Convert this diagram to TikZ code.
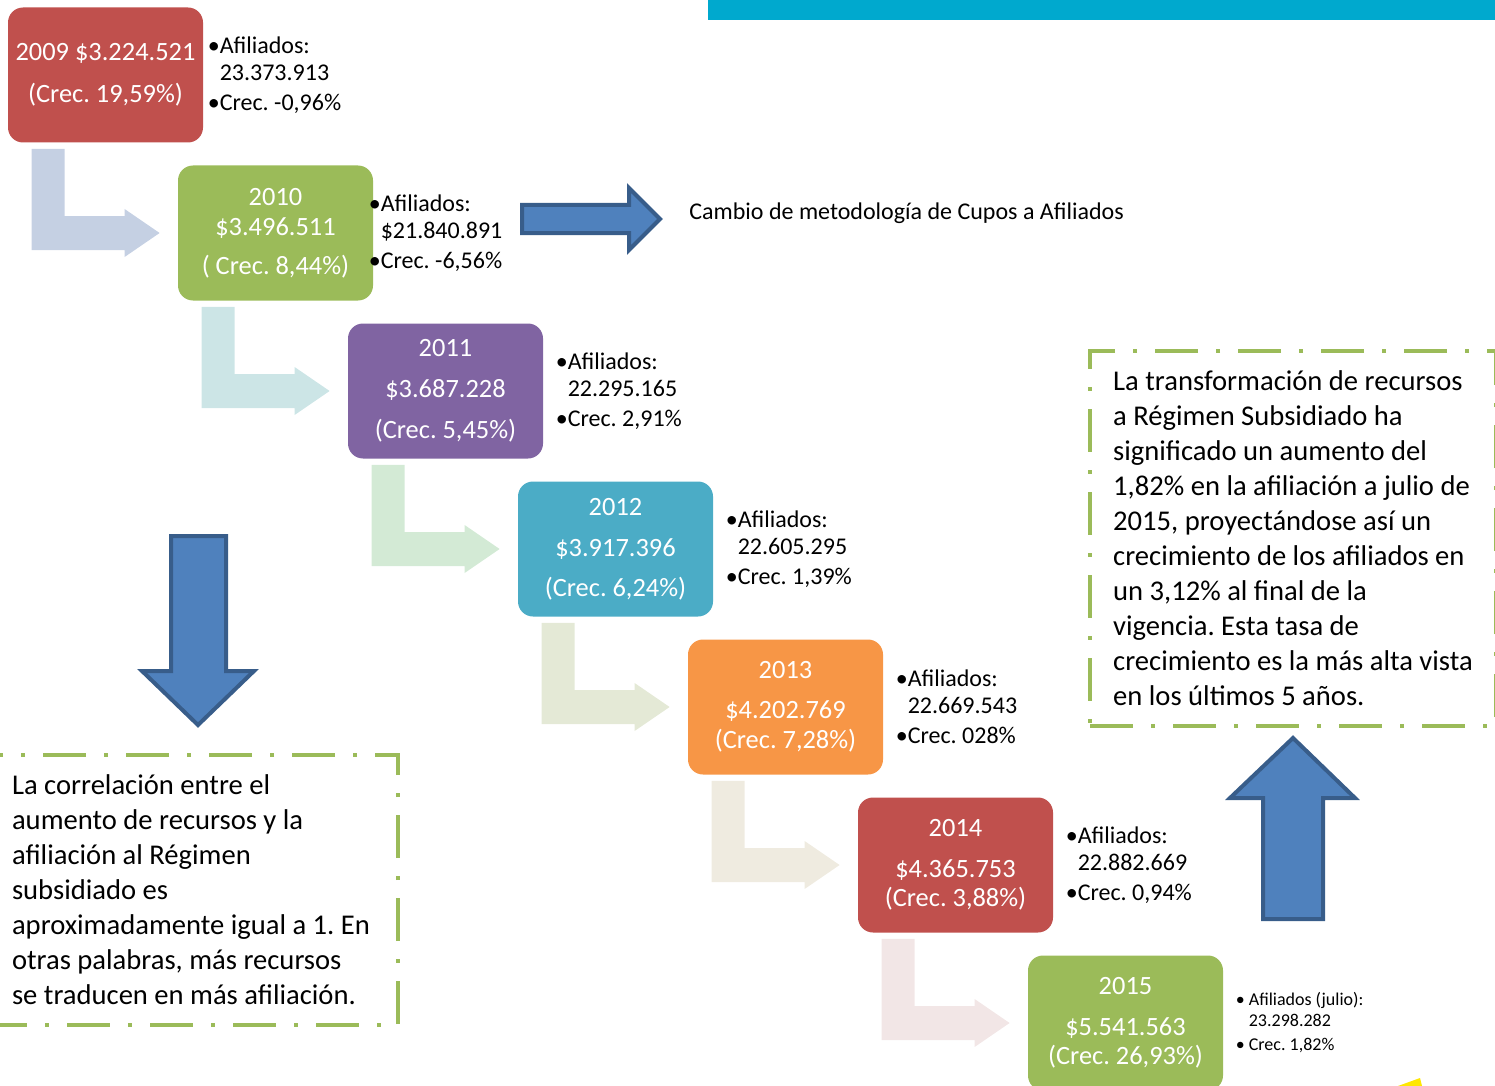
\documentclass[tikz,border=0pt]{standalone}
\usepackage{fontspec}
\setmainfont{Carlito}
\usetikzlibrary{positioning, calc}
\frenchspacing

\definecolor{rojo}{HTML}{C0504D}
\definecolor{verde}{HTML}{9BBB59}
\definecolor{morado}{HTML}{8064A2}
\definecolor{celeste}{HTML}{4BACC6}
\definecolor{naranja}{HTML}{F79646}
\definecolor{azul}{HTML}{4F81BD}
\definecolor{azulborde}{HTML}{385D8A}
\definecolor{barra}{HTML}{00A9CE}
\definecolor{paso1}{HTML}{C5D0E3}
\definecolor{paso2}{HTML}{CCE5E6}
\definecolor{paso3}{HTML}{D3EAD5}
\definecolor{paso4}{HTML}{E4E9D6}
\definecolor{paso5}{HTML}{EFEBE0}
\definecolor{paso6}{HTML}{F2E6E6}

\newcommand{\afil}[2]{\textbullet Afiliados:\\\hphantom{\textbullet}#1\\[1.5pt]\textbullet Crec. #2}

\begin{document}
\begin{tikzpicture}[x=0.5pt, y=-0.5pt,
  box/.style={rectangle, rounded corners=7.5pt, minimum width=97.5pt, minimum height=67.5pt,
    inner sep=0pt, text=white, align=center, font=\fontsize{13.2}{15}\selectfont},
  info/.style={inner sep=0pt, align=left, font=\fontsize{12}{13.5}\selectfont},
  note/.style={draw=verde, line width=2pt, dash pattern=on 21.5pt off 9pt on 2pt off 9pt,
    align=left, inner sep=0pt, font=\fontsize{14.3}{17.5}\selectfont},
  flecha/.style={fill=azul, draw=azulborde, line width=2pt}]
  \clip (0,0) rectangle (1495,1086);
  \fill[barra] (708,0) rectangle (1495,20);

  % Nodes
  \node[box, fill=rojo] (y2009) at (105.5,75) {2009 \$3.224.521\\[6pt](Crec. 19,59\%)};
  \node[box, fill=verde, on grid, below right=79pt and 85pt of y2009] (y2010)
    {2010\\\$3.496.511\\[4.5pt]( Crec. 8,44\%)};
  \node[box, fill=morado, on grid, below right=79pt and 85pt of y2010] (y2011)
    {2011\\[5.5pt]\$3.687.228\\[5.5pt](Crec. 5,45\%)};
  \node[box, fill=celeste, on grid, below right=79pt and 85pt of y2011] (y2012)
    {2012\\[5.5pt]\$3.917.396\\[5pt](Crec. 6,24\%)};
  \node[box, fill=naranja, on grid, below right=79pt and 85pt of y2012] (y2013)
    {2013\\[5pt]\$4.202.769\\(Crec. 7,28\%)};
  \node[box, fill=rojo, on grid, below right=79pt and 85pt of y2013] (y2014)
    {2014\\[5.5pt]\$4.365.753\\[-0.5pt](Crec. 3,88\%)};
  \node[box, fill=verde, on grid, below right=79pt and 85pt of y2014] (y2015)
    {2015\\[5.5pt]\$5.541.563\\[-0.5pt](Crec. 26,93\%)};

  \node[info, right=2pt of y2009] (i2009) {\afil{23.373.913}{-0,96\%}};
  \node[info, right=-2.5pt of y2010] (i2010) {\afil{\$21.840.891}{-6,56\%}};
  \node[info, right=6pt of y2011] (i2011) {\afil{22.295.165}{2,91\%}};
  \node[info, right=6pt of y2012] (i2012) {\afil{22.605.295}{1,39\%}};
  \node[info, right=6pt of y2013] (i2013) {\afil{22.669.543}{028\%}};
  \node[info, right=6pt of y2014] (i2014) {\afil{22.882.669}{0,94\%}};
  \node[info, right=6pt of y2015, font=\fontsize{9}{10.5}\selectfont] (i2015)
    {\textbullet\ Afiliados (julio):\\\hphantom{\textbullet\ }23.298.282\\[1.5pt]\textbullet\ Crec. 1,82\%};

  \node[anchor=west, inner sep=0pt, font=\fontsize{12}{14}\selectfont] (cambio) at (689,213)
    {Cambio de metodología de Cupos a Afiliados};

  \node[note, anchor=north west, minimum width=203pt, minimum height=187.5pt] (nota2) at (1088,349)
    {La transformación de recursos\\a Régimen Subsidiado ha\\significado un aumento del\\
     1,82\% en la afiliación a julio de\\2015, proyectándose así un\\
     crecimiento de los afiliados en\\un 3,12\% al final de la\\vigencia. Esta tasa de\\
     crecimiento es la más alta vista\\en los últimos 5 años.};
  \node[note, anchor=north east, minimum width=207pt, minimum height=135pt] (nota1) at (400,753)
    {La correlación entre el\\aumento de recursos y la\\afiliación al Régimen\\subsidiado es\\
     aproximadamente igual a 1. En\\otras palabras, más recursos\\se traducen en más afiliación.};

  % Edges
  \foreach \a/\b/\c in {y2009/y2010/paso1, y2010/y2011/paso2, y2011/y2012/paso3,
                        y2012/y2013/paso4, y2013/y2014/paso5, y2014/y2015/paso6} {
    \coordinate (s) at ($(\a.south west)+(24,6)$);
    \coordinate (t) at ($(\b.west)+(-18,0)$);
    \fill[\c] (s) -- ++(33,0) -- ($(s|-t)+(33,-17)$) -- ($(t)+(-35,-17)$) -- ($(t)+(-35,-24)$)
      -- (t) -- ($(t)+(-35,24)$) -- ($(t)+(-35,17)$) -- ($(s|-t)+(0,17)$) -- cycle;
  }

  % Big arrows
  \draw[flecha] (522,205) -- (629,205) -- (629,188) -- (660,219) -- (629,250) -- (629,233)
    -- (522,233) -- cycle;
  \draw[flecha] (171,536) -- (226,536) -- (226,671) -- (254,671) -- (198,725) -- (142,671)
    -- (171,671) -- cycle;
  \draw[flecha] (1293,738) -- (1355,798) -- (1323,798) -- (1323,919) -- (1263,919) -- (1263,798)
    -- (1230,798) -- cycle;

  \fill[yellow!90!orange] (1398,1086) -- (1420,1078) -- (1422,1086) -- cycle;
\end{tikzpicture}
\end{document}
